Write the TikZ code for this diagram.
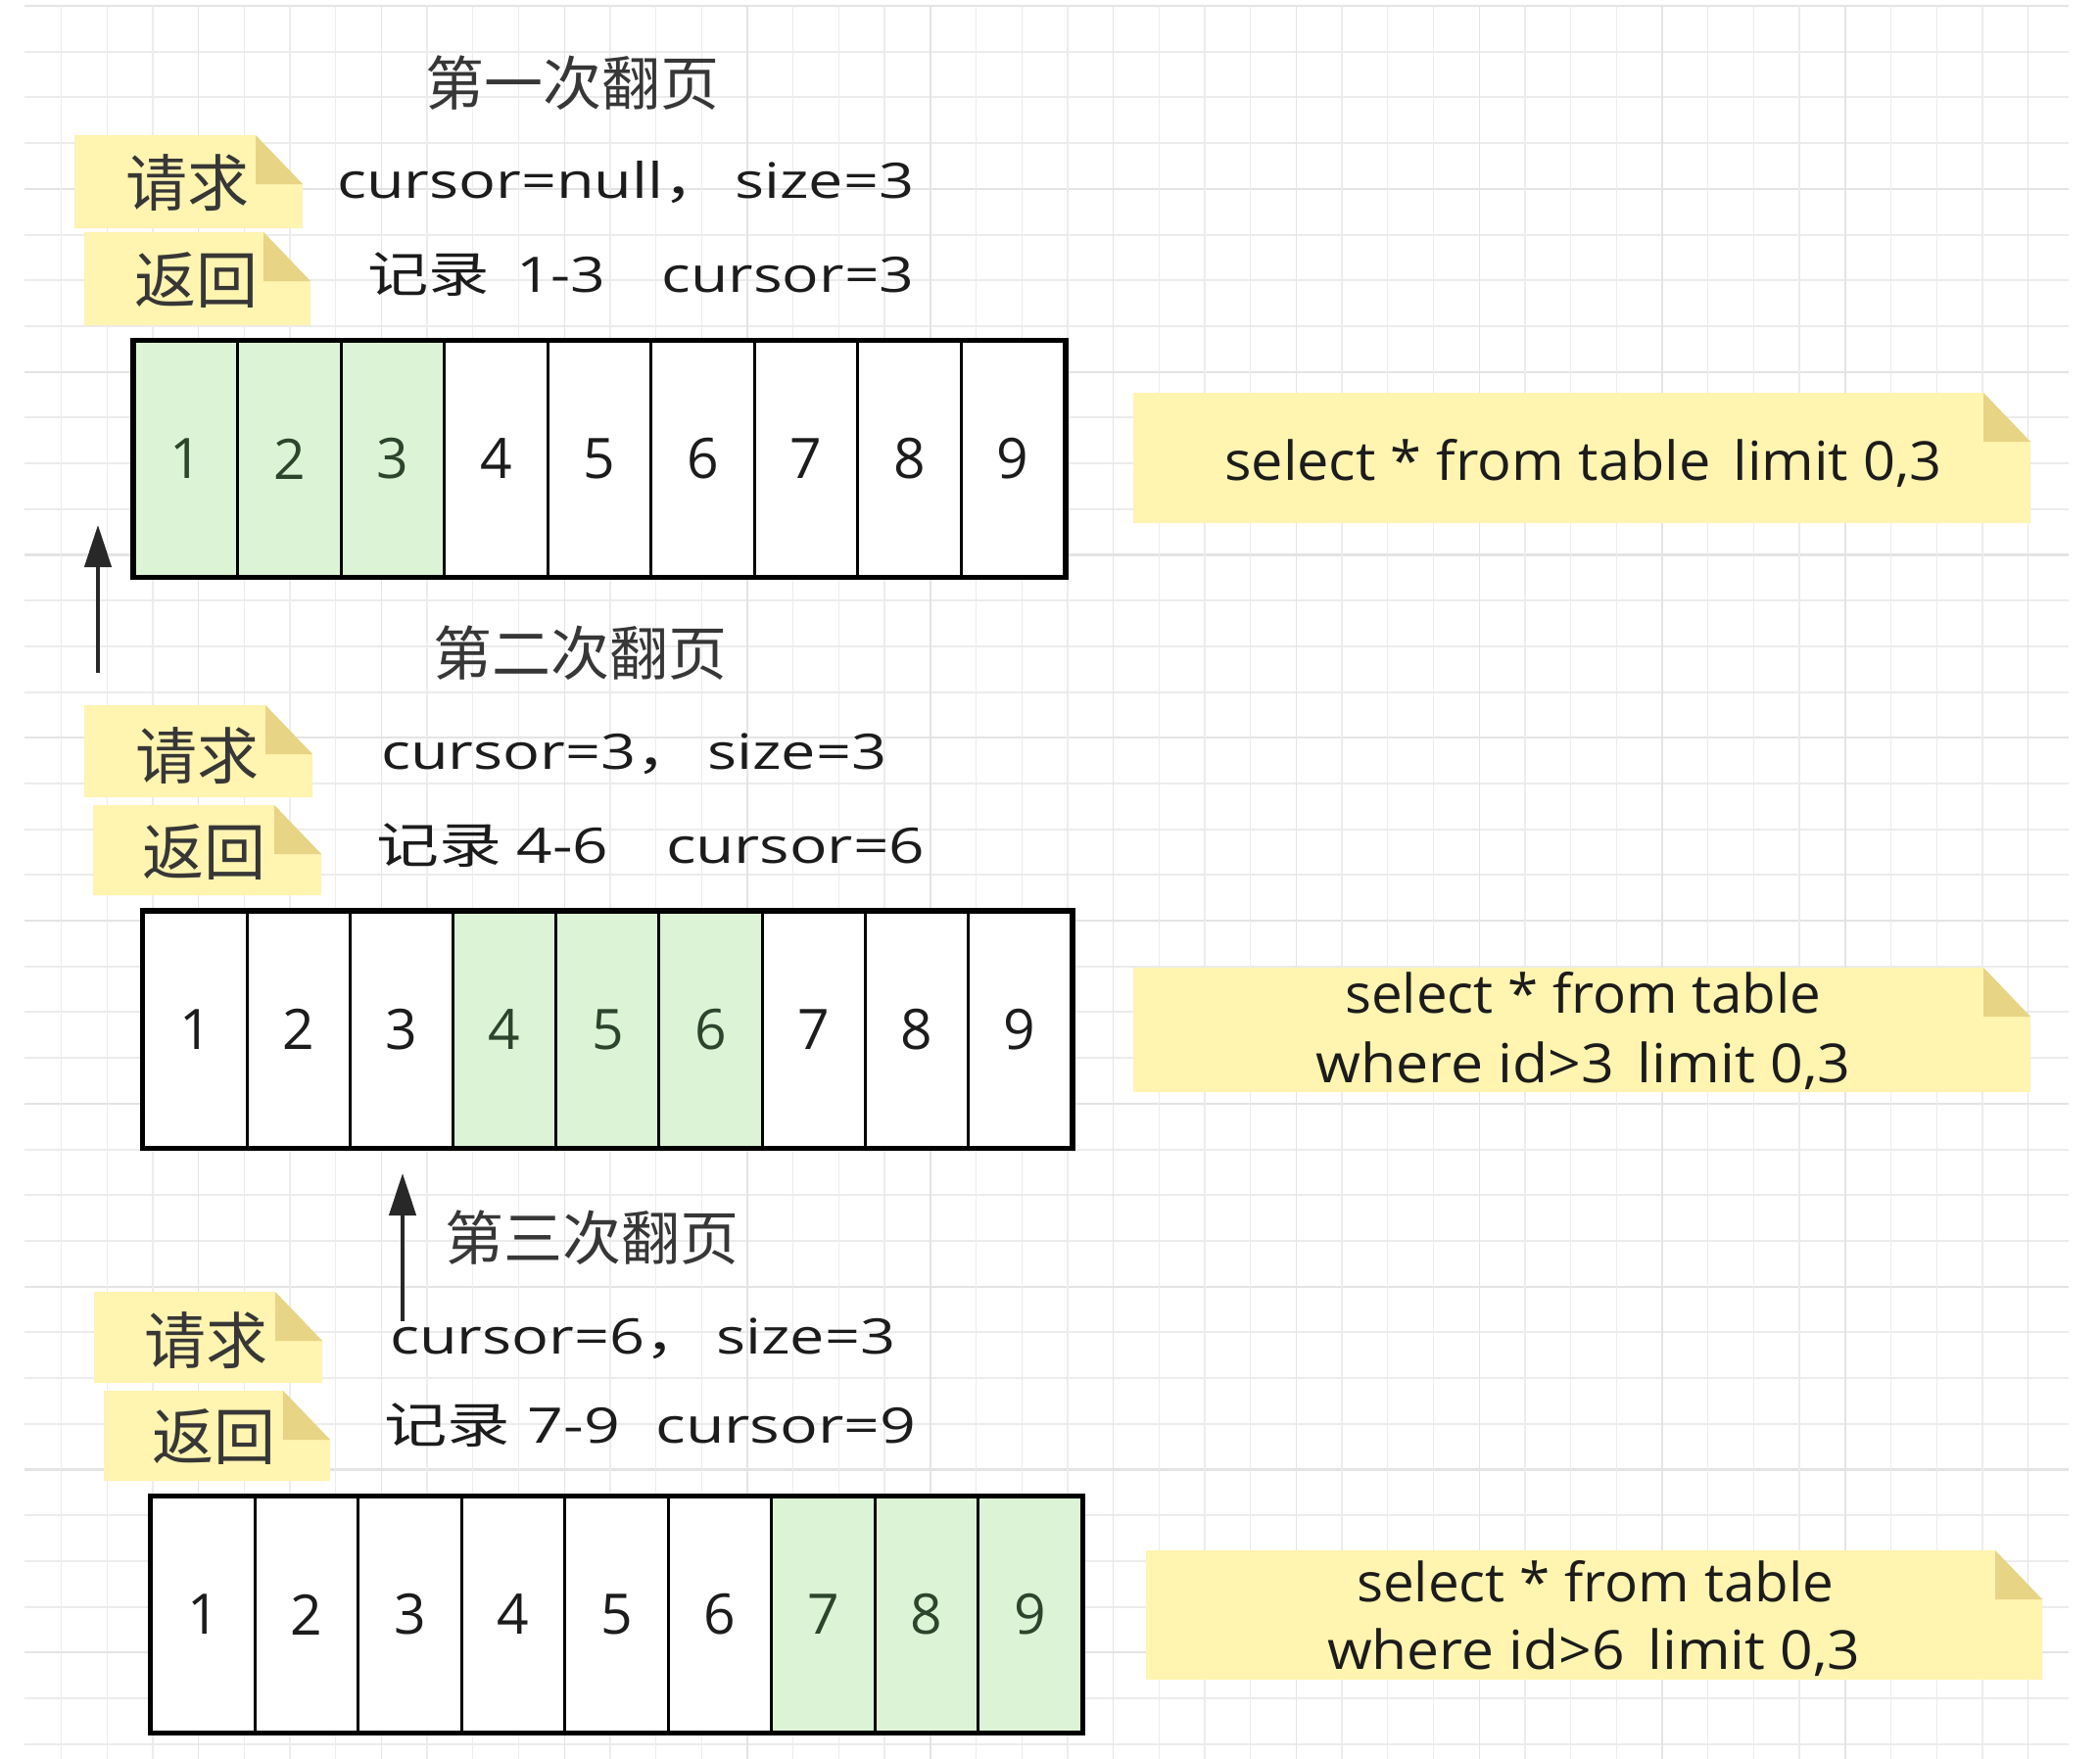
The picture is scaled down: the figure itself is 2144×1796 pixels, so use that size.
\documentclass[tikz,border=0pt]{standalone}
\usepackage{fontspec}
\setmainfont{Open Sans}
\newfontfamily\cjk{Noto Sans CJK SC}
\usepackage{graphicx}
\usetikzlibrary{arrows.meta,calc}
\definecolor{notefill}{RGB}{255,244,176}
\definecolor{foldfill}{RGB}{231,212,133}
\definecolor{cellgreen}{RGB}{221,243,213}
\definecolor{gridminor}{RGB}{236,236,236}
\definecolor{gridmajor}{RGB}{228,228,228}
\definecolor{ink}{RGB}{28,28,28}
\definecolor{titleink}{RGB}{55,55,55}
\definecolor{greenink}{RGB}{45,68,45}
\definecolor{arrowc}{RGB}{40,40,40}
\newcommand\fitw[2]{\resizebox{#1pt}{\height}{#2}}
\newcommand\stickynote[4]{%
  \coordinate (tr) at (#3,#2);
  \fill[notefill] (#1,#2) -- ($(tr)+(-48,0)$) -- ($(tr)+(0,50)$) -- (#3,#4) -- (#1,#4) -- cycle;
  \fill[foldfill] ($(tr)+(-48,0)$) -- ($(tr)+(-48,50)$) -- ($(tr)+(0,50)$) -- cycle;
}
\begin{document}
\begin{tikzpicture}[x=1pt,y=-1pt,
  hline/.style={draw=gridminor,line width=2pt},
  hmajor/.style={draw=gridmajor,line width=2.2pt},
  vline/.style={draw=gridminor,line width=1.3pt},
  vmajor/.style={draw=gridmajor,line width=1.4pt},
  cell/.style={draw=black,line width=3pt,minimum width=105.5pt,minimum height=240pt,inner sep=0pt,
    font=\fontsize{57pt}{60pt}\selectfont,text=ink},
  gcell/.style={cell,fill=cellgreen,text=greenink},
  wcell/.style={cell,fill=white},
  outer/.style={draw=black,line width=4.5pt},
  title/.style={inner sep=0pt,text=titleink,font={\cjk\fontsize{60pt}{64pt}\selectfont}},
  lbl/.style={inner sep=0pt,text=titleink,font={\cjk\fontsize{63pt}{66pt}\selectfont}},
  info/.style={inner sep=0pt,anchor=base west,text=ink,font=\fontsize{50pt}{55pt}\selectfont},
  sql/.style={inner sep=0pt,anchor=base west,text=ink,font=\fontsize{55pt}{60pt}\selectfont},
  arr/.style={draw=arrowc,line width=4.5pt,-{Triangle[length=43pt,width=27pt]}}
]
\useasboundingbox (0,0) rectangle (2144,1796);
\fill[white] (0,0) rectangle (2144,1796);
% grid
\foreach \k in {0,...,38} {\draw[hline] (25,{6+\k*46.7}) -- (2112,{6+\k*46.7});}
\foreach \k in {0,4,...,36} {\draw[hmajor] (25,{6+\k*46.7}) -- (2112,{6+\k*46.7});}
\foreach \k in {0,...,43} {\draw[vline] ({62.5+\k*46.7},6) -- ({62.5+\k*46.7},1796);}
\foreach \k in {3,7,...,43} {\draw[vmajor] ({62.5+\k*46.7},6) -- ({62.5+\k*46.7},1796);}

% ---------- first page ----------
\node[title] (t1) at (584,85) {第一次翻页};
\stickynote{76}{138}{309}{233}
\stickynote{86}{237}{317}{332}
\node[lbl] (q1) at (191.5,186.5) {请求};
\node[lbl] (r1) at (200,286.5) {返回};
\node[info] (i1a) at (344,202) {\fitw{589}{cursor=null{\cjk ，}\hspace{8pt}size=3}};
\node[info] (i1b) at (375,298) {\fitw{558}{{\cjk 记录}\hspace{22pt}1-3\hspace{46pt}cursor=3}};
\foreach \i in {1,2,3} {\node[gcell] (s1c\i) at ({137+(\i-0.5)*105.55},468.5) {\i};}
\foreach \i in {4,...,9} {\node[wcell] (s1c\i) at ({137+(\i-0.5)*105.55},468.5) {\i};}
\draw[outer] (s1c1.north west) rectangle (s1c9.south east);
\stickynote{1157}{401}{2073}{534}
\node[sql] (sq1) at (1250,490) {\fitw{732}{select * from table\hspace{22pt}limit 0,3}};

% arrow 1
\coordinate (a1s) at (100,687);
\coordinate (a1e) at (100,536);
\draw[arr] (a1s) -- (a1e);

% ---------- second page ----------
\node[title] (t2) at (592.5,667) {第二次翻页};
\stickynote{86}{720}{319}{814}
\stickynote{95}{822}{328}{914}
\node[lbl] (q2) at (201.5,771.5) {请求};
\node[lbl] (r2) at (208.5,870) {返回};
\node[info] (i2a) at (389,785) {\fitw{516}{cursor=3{\cjk ，}\hspace{8pt}size=3}};
\node[info] (i2b) at (384,881) {\fitw{560}{{\cjk 记录}\hspace{12pt}4-6\hspace{46pt}cursor=6}};
\foreach \i in {1,2,3,7,8,9} {\node[wcell] (s2c\i) at ({147+(\i-0.5)*105.2},1051) {\i};}
\foreach \i in {4,5,6} {\node[gcell] (s2c\i) at ({147+(\i-0.5)*105.2},1051) {\i};}
\draw[outer] (s2c1.north west) rectangle (s2c9.south east);
\stickynote{1157}{988}{2073}{1115}
\node[sql] (sq2a) at (1373,1034) {\fitw{486}{select * from table}};
\node[sql] (sq2b) at (1343,1105) {\fitw{546}{where id>3\hspace{22pt}limit 0,3}};

% arrow 2
\coordinate (a2s) at (411,1349);
\coordinate (a2e) at (411,1198);
\draw[arr] (a2s) -- (a2e);

% ---------- third page ----------
\node[title] (t3) at (604,1263.5) {第三次翻页};
\stickynote{96}{1319}{329}{1412}
\stickynote{106}{1420}{337}{1512}
\node[lbl] (q3) at (210.5,1368.5) {请求};
\node[lbl] (r3) at (218,1467) {返回};
\node[info] (i3a) at (398,1382) {\fitw{516}{cursor=6{\cjk ，}\hspace{8pt}size=3}};
\node[info] (i3b) at (392,1473) {\fitw{543}{{\cjk 记录}\hspace{14pt}7-9\hspace{28pt}cursor=9}};
\foreach \i in {1,...,6} {\node[wcell] (s3c\i) at ({155+(\i-0.5)*105.45},1648.5) {\i};}
\foreach \i in {7,8,9} {\node[gcell] (s3c\i) at ({155+(\i-0.5)*105.45},1648.5) {\i};}
\draw[outer] (s3c1.north west) rectangle (s3c9.south east);
\stickynote{1170}{1583}{2085}{1715}
\node[sql] (sq3a) at (1385,1635) {\fitw{487}{select * from table}};
\node[sql] (sq3b) at (1355,1704) {\fitw{544}{where id>6\hspace{22pt}limit 0,3}};
\end{tikzpicture}
\end{document}
